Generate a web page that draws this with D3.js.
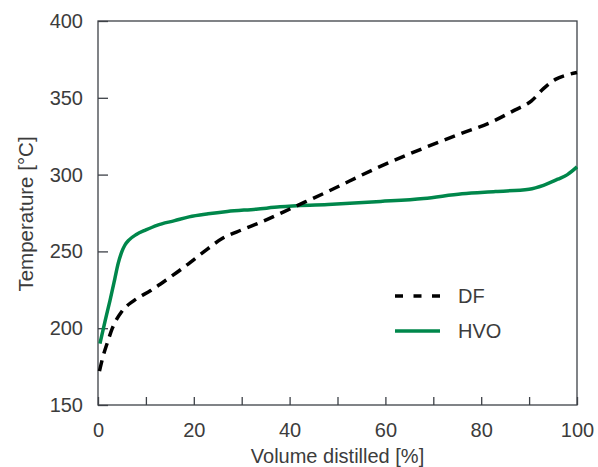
<!DOCTYPE html>
<html>
<head>
<meta charset="utf-8">
<script src="https://cdn.jsdelivr.net/npm/d3@7"></script>
<style>
  html, body { margin: 0; padding: 0; background: #fff; }
  svg { display: block; }
  text { font-family: "Liberation Sans", Arial, sans-serif; fill: #3c3c3c; }
</style>
</head>
<body>
<svg id="chart" width="598" height="467"></svg>
<script>
// Data
const dfVolume = [0.3, 1, 2, 3, 5, 7.5, 11, 14.3, 18.5, 22, 26, 30, 34, 41, 48, 58, 67, 76, 82, 87, 90.5, 93, 95.5, 98, 100];
const dfTemp   = [172, 181, 191, 200, 211, 218, 224.5, 231.5, 241, 249.5, 258.5, 264, 269, 279, 289, 304, 316, 327, 334, 342, 348, 356, 362, 365, 366.5];

const hvoVolume = [0.4, 1.5, 2.5, 3.5, 4.2, 5, 5.6, 6.5, 8, 10, 12.3, 16, 19, 23, 27, 33, 38, 48, 59, 68, 76, 83, 90, 93, 96, 98, 100];
const hvoTemp   = [190, 205, 218, 232, 242, 250, 254, 257.5, 261, 264, 267, 270, 272.5, 274.5, 276, 277.5, 279, 280.5, 282.5, 284.5, 287.5, 289, 290.5, 293, 297, 300, 305];

const xTicks = [0, 10, 20, 30, 40, 50, 60, 70, 80, 90, 100];
const xTickLabels = [0, 20, 40, 60, 80, 100];
const yTicks = [150, 200, 250, 300, 350, 400];

const seriesNames = ["DF", "HVO"];
const xTitle = "Volume distilled [%]";
const yTitle = "Temperature [°C]";

const svg = d3.select("#chart");
const L = 98, R = 577, T = 21, B = 405;
const axisColor = "#3d4147";
const green = "#00874b";
const fs = 20;

const x = d3.scaleLinear().domain([0, 100]).range([L, R]);
const y = d3.scaleLinear().domain([150, 400]).range([B, T]);

// Frame
svg.append("rect").attr("x", L).attr("y", T).attr("width", R - L).attr("height", B - T)
  .attr("fill", "none").attr("stroke", axisColor).attr("stroke-width", 1.3);

// X axis ticks (inward)
const xAxis = svg.append("g").attr("transform", `translate(0,${B})`)
  .call(d3.axisTop(x).tickValues(xTicks).tickSize(8).tickFormat(""));
xAxis.select(".domain").remove();
xAxis.selectAll("line").attr("stroke", axisColor).attr("stroke-width", 1.3);

// X labels
const xLab = svg.append("g").attr("transform", `translate(0,${B})`)
  .call(d3.axisBottom(x).tickValues(xTickLabels).tickSize(0).tickPadding(18).tickFormat(d3.format("d")));
xLab.select(".domain").remove();
xLab.selectAll("text").attr("font-size", fs).attr("fill", "#3c3c3c")
  .attr("font-family", "Liberation Sans, Arial, sans-serif");

// Y axis ticks (inward)
const yAxis = svg.append("g").attr("transform", `translate(${L},0)`)
  .call(d3.axisRight(y).tickValues(yTicks).tickSize(10).tickFormat(""));
yAxis.select(".domain").remove();
yAxis.selectAll("line").attr("stroke", axisColor).attr("stroke-width", 1.3);

const yLab = svg.append("g").attr("transform", `translate(${L},0)`)
  .call(d3.axisLeft(y).tickValues(yTicks).tickSize(0).tickPadding(15).tickFormat(d3.format("d")));
yLab.select(".domain").remove();
yLab.selectAll("text").attr("font-size", fs).attr("fill", "#3c3c3c")
  .attr("font-family", "Liberation Sans, Arial, sans-serif");

// Titles
svg.append("text").attr("x", (L + R) / 2).attr("y", 463).attr("text-anchor", "middle")
  .attr("font-size", fs).text(xTitle);
svg.append("text").attr("transform", `translate(33,${(T + B) / 2 + 1}) rotate(-90)`)
  .attr("text-anchor", "middle").attr("font-size", 20.5).text(yTitle);

// Lines
const line = d3.line().x(d => x(d[0])).y(d => y(d[1])).curve(d3.curveMonotoneX);
const dfData = dfVolume.map((v, i) => [v, dfTemp[i]]);
const hvoData = hvoVolume.map((v, i) => [v, hvoTemp[i]]);

svg.append("path").datum(hvoData).attr("d", line).attr("fill", "none")
  .attr("stroke", green).attr("stroke-width", 3.5);
svg.append("path").datum(dfData).attr("d", line).attr("fill", "none")
  .attr("stroke", "#000").attr("stroke-width", 3.5).attr("stroke-dasharray", "11,7");

// Legend
const lg = svg.append("g");
lg.append("line").attr("x1", 395).attr("x2", 440).attr("y1", 296).attr("y2", 296)
  .attr("stroke", "#000").attr("stroke-width", 3.5).attr("stroke-dasharray", "8,10.5");
lg.append("text").attr("x", 458).attr("y", 303).attr("font-size", fs).text(seriesNames[0]);
lg.append("line").attr("x1", 395).attr("x2", 440).attr("y1", 331).attr("y2", 331)
  .attr("stroke", green).attr("stroke-width", 3.5);
lg.append("text").attr("x", 458).attr("y", 338).attr("font-size", fs).text(seriesNames[1]);
</script>
</body>
</html>
